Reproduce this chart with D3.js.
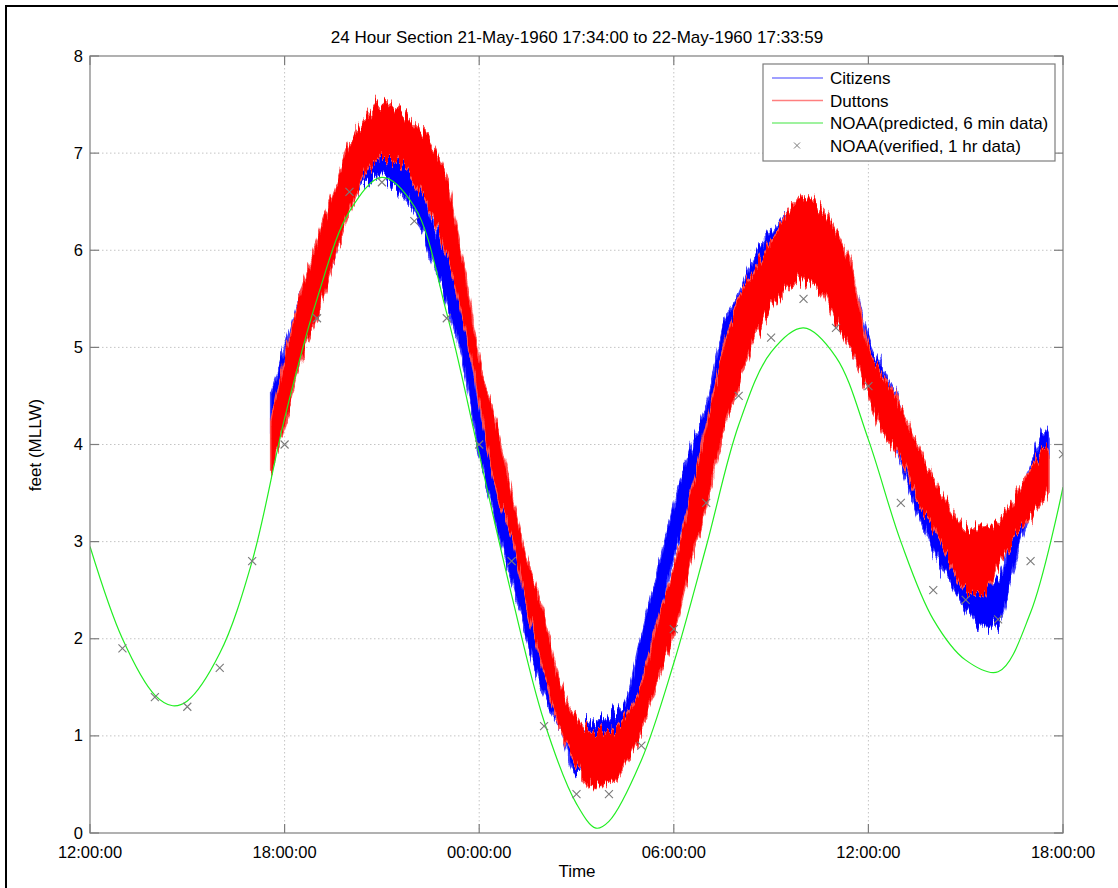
<!DOCTYPE html>
<html lang="en">
<head>
  <meta charset="UTF-8">
  <title>24 Hour Section</title>
  <script src="https://cdn.jsdelivr.net/npm/d3@7"></script>
  <style>
    body { margin: 0; background: #fff; font-family: "Liberation Sans", Arial, sans-serif; }
    svg text { font-family: "Liberation Sans", Arial, sans-serif; fill: #000; }
  </style>
</head>
<body>
  <svg id="chart" width="1118" height="888"></svg>

  <script>
    // hours after 21-May-1960 12:00:00
    const predHours = [0, 1, 2, 2.55, 3, 4, 5, 6, 7, 8, 9, 10, 11, 12, 13, 14, 15, 15.6, 16, 17,
                       18, 19, 20, 21, 22, 23, 24, 25, 26, 27, 28, 29, 30];
    const predFeet  = [2.95, 2.0, 1.42, 1.31, 1.36, 1.85, 2.8, 4.27, 5.5, 6.4, 6.75, 6.45, 5.35, 3.9, 2.45, 1.15, 0.3, 0.05, 0.12, 0.75,
                       1.75, 2.95, 4.2, 4.95, 5.2, 4.9, 4.05, 3.0, 2.2, 1.78, 1.66, 2.27, 3.56];

    const verHours = [1, 2, 3, 4, 5, 6, 7, 8, 9, 10, 11, 12, 13, 14, 15,
                      16, 17, 18, 19, 20, 21, 22, 23, 24, 25, 26, 27, 28, 29, 30];
    const verFeet  = [1.9, 1.4, 1.3, 1.7, 2.8, 4.0, 5.3, 6.6, 6.7, 6.3, 5.3, 4.0, 2.8, 1.1, 0.4,
                      0.4, 0.9, 2.1, 3.4, 4.5, 5.1, 5.5, 5.2, 4.6, 3.4, 2.5, 2.4, 2.2, 2.8, 3.9];

    // gauge records, read as low / high envelope of the noisy trace
    const gaugeHours = [5.57, 6, 6.5, 7, 7.5, 8, 8.5, 9, 9.5, 10, 10.5, 11, 11.5, 12, 12.5, 13, 13.5, 14,
                        14.5, 15, 15.5, 16, 16.5, 17, 17.5, 18, 18.5, 19, 19.5, 20, 20.5, 21, 21.5, 22,
                        22.5, 23, 23.5, 24, 24.5, 25, 25.5, 26, 26.5, 27, 27.5, 28, 28.5, 29, 29.5, 29.57];
    const citizensLow  = [4.05, 4.45, 4.95, 5.45, 5.85, 6.45, 6.7, 6.75, 6.6, 6.4, 5.95, 5.45, 4.85, 3.9, 3.2, 2.6, 1.95, 1.4,
                          1.05, 0.6, 0.65, 0.65, 0.85, 1.4, 2.15, 2.85, 3.4, 3.9, 4.4, 4.85, 5.25, 5.5, 5.75, 5.8,
                          5.65, 5.3, 4.95, 4.55, 4.2, 3.8, 3.3, 2.9, 2.6, 2.3, 2.1, 2.15, 2.75, 3.3, 3.8, 3.85];
    const citizensHigh = [4.55, 5.0, 5.55, 6.0, 6.4, 6.85, 7.0, 7.1, 6.95, 6.85, 6.35, 5.95, 5.35, 4.4, 3.7, 3.1, 2.4, 1.8,
                          1.4, 1.1, 1.15, 1.2, 1.35, 2.05, 2.7, 3.4, 3.95, 4.4, 5.2, 5.55, 5.95, 6.2, 6.4, 6.5,
                          6.4, 6.1, 5.75, 5.1, 4.75, 4.4, 3.8, 3.35, 3.1, 2.85, 2.65, 2.6, 3.25, 3.8, 4.15, 4.1];
    const duttonsLow   = [3.7, 4.2, 4.85, 5.3, 5.85, 6.4, 6.8, 6.95, 6.9, 6.7, 6.4, 5.95, 5.3, 4.45, 3.55, 3.05, 2.3, 1.65,
                          1.05, 0.7, 0.5, 0.5, 0.7, 1.05, 1.55, 2.05, 2.75, 3.35, 4.1, 4.6, 5.1, 5.4, 5.6, 5.7,
                          5.6, 5.25, 4.95, 4.5, 4.1, 3.85, 3.45, 3.15, 2.8, 2.5, 2.45, 2.75, 3.0, 3.25, 3.5, 3.55];
    const duttonsHigh  = [4.2, 4.9, 5.55, 6.1, 6.6, 7.1, 7.35, 7.5, 7.45, 7.3, 7.1, 6.75, 5.9, 4.9, 4.25, 3.5, 2.8, 2.25,
                          1.55, 1.2, 1.05, 1.05, 1.2, 1.55, 2.2, 2.75, 3.45, 4.2, 4.95, 5.5, 5.8, 6.1, 6.4, 6.55,
                          6.45, 6.2, 5.8, 5.0, 4.7, 4.4, 4.0, 3.65, 3.35, 3.15, 3.15, 3.2, 3.45, 3.75, 3.95, 3.9];

    const yTicks = [0, 1, 2, 3, 4, 5, 6, 7, 8];

    const svg = d3.select("#chart");
    const pl = 90, pr = 1063, pt = 56, pb = 833;
    const start = Date.UTC(1960, 4, 21, 12);
    const toDate = h => new Date(start + h * 3600e3);

    const x = d3.scaleUtc().domain([toDate(0), toDate(30)]).range([pl, pr]);
    const y = d3.scaleLinear().domain([0, 8]).range([pb, pt]);
    const xTicks = x.ticks(d3.utcHour.every(6));
    const fmt = d3.utcFormat("%H:%M:%S");

    // figure frame
    svg.append("rect").attr("x", 6).attr("y", 6).attr("width", 1130).attr("height", 900)
      .attr("fill", "none").attr("stroke", "#000").attr("stroke-width", 2);

    // noise filter for the gauge bands (visual texture only)
    const defs = svg.append("defs");
    const f = defs.append("filter").attr("id", "jag")
      .attr("x", "-5%").attr("y", "-10%").attr("width", "110%").attr("height", "120%");
    f.append("feTurbulence").attr("type", "fractalNoise").attr("baseFrequency", "0.35 0.025")
      .attr("numOctaves", 3).attr("seed", 7).attr("result", "n");
    f.append("feColorMatrix").attr("in", "n").attr("type", "matrix")
      .attr("values", "0 0 0 0 0.5  0 1 0 0 0  0 0 1 0 0  0 0 0 0 1").attr("result", "m");
    f.append("feDisplacementMap").attr("in", "SourceGraphic").attr("in2", "m")
      .attr("scale", 30).attr("xChannelSelector", "R").attr("yChannelSelector", "G");

    defs.append("clipPath").attr("id", "plot")
      .append("rect").attr("x", pl).attr("y", pt).attr("width", pr - pl).attr("height", pb - pt);

    // grid
    const grid = svg.append("g").attr("stroke", "#c4c4c4").attr("stroke-dasharray", "1.5,2.5");
    grid.selectAll(".gx").data(xTicks.slice(1, -1)).join("line")
      .attr("x1", d => x(d)).attr("x2", d => x(d)).attr("y1", pt).attr("y2", pb);
    grid.selectAll(".gy").data(yTicks.slice(1, -1)).join("line")
      .attr("x1", pl).attr("x2", pr).attr("y1", d => y(d)).attr("y2", d => y(d));

    const plot = svg.append("g").attr("clip-path", "url(#plot)");

    const band = (lo, hi) => d3.area()
      .x((d, i) => x(toDate(gaugeHours[i])))
      .y0((d, i) => y(lo[i]))
      .y1((d, i) => y(hi[i]))
      .curve(d3.curveMonotoneX)(gaugeHours);

    plot.append("path").attr("d", band(citizensLow, citizensHigh))
      .attr("fill", "#0000ff").attr("stroke", "#4040ff").attr("stroke-width", 1.5)
      .attr("filter", "url(#jag)");
    plot.append("path").attr("d", band(duttonsLow, duttonsHigh))
      .attr("fill", "#ff0000").attr("stroke", "#ff5050").attr("stroke-width", 1.5)
      .attr("filter", "url(#jag)");

    const predLine = d3.line()
      .x((d, i) => x(toDate(predHours[i])))
      .y(d => y(d))
      .curve(d3.curveCatmullRom.alpha(0.5));
    plot.append("path").attr("d", predLine(predFeet))
      .attr("fill", "none").attr("stroke", "#22ee22").attr("stroke-width", 1.2);

    const cross = 4;
    plot.selectAll(".ver").data(verFeet).join("path")
      .attr("d", (d, i) => {
        const cx = x(toDate(verHours[i])), cy = y(d);
        return `M${cx - cross},${cy - cross}L${cx + cross},${cy + cross}M${cx - cross},${cy + cross}L${cx + cross},${cy - cross}`;
      })
      .attr("stroke", "#7a7a7a").attr("stroke-width", 1.1).attr("fill", "none");

    // axes box and ticks
    const ax = svg.append("g").attr("stroke", "#7d7d7d").attr("stroke-width", 1.2);
    ax.append("rect").attr("x", pl).attr("y", pt).attr("width", pr - pl).attr("height", pb - pt)
      .attr("fill", "none");
    const tl = 9;
    xTicks.forEach(t => {
      ax.append("line").attr("x1", x(t)).attr("x2", x(t)).attr("y1", pb).attr("y2", pb - tl);
      ax.append("line").attr("x1", x(t)).attr("x2", x(t)).attr("y1", pt).attr("y2", pt + tl);
    });
    yTicks.forEach(v => {
      ax.append("line").attr("x1", pl).attr("x2", pl + tl).attr("y1", y(v)).attr("y2", y(v));
      ax.append("line").attr("x1", pr).attr("x2", pr - tl).attr("y1", y(v)).attr("y2", y(v));
    });

    svg.append("g").selectAll("text").data(xTicks).join("text")
      .attr("x", d => x(d)).attr("y", 858).attr("text-anchor", "middle")
      .attr("font-size", 16.5).text(fmt);
    svg.append("g").selectAll("text").data(yTicks).join("text")
      .attr("x", pl - 7).attr("y", d => y(d) + 5.5).attr("text-anchor", "end")
      .attr("font-size", 16.5).text(d => d);

    svg.append("text").attr("x", 577).attr("y", 43).attr("text-anchor", "middle")
      .attr("font-size", 17).text("24 Hour Section 21-May-1960 17:34:00 to 22-May-1960 17:33:59");
    svg.append("text").attr("x", 577).attr("y", 877).attr("text-anchor", "middle")
      .attr("font-size", 17).text("Time");
    svg.append("text").attr("transform", "translate(41,445) rotate(-90)").attr("text-anchor", "middle")
      .attr("font-size", 17).text("feet (MLLW)");

    // legend
    const legendNames = ["Citizens", "Duttons", "NOAA(predicted, 6 min data)", "NOAA(verified, 1 hr data)"];
    const legendColors = ["#0000ff", "#ff0000", "#00dd00", "#7a7a7a"];
    const lg = svg.append("g").attr("transform", "translate(763,64)");
    lg.append("rect").attr("width", 292).attr("height", 97)
      .attr("fill", "#fff").attr("stroke", "#7d7d7d").attr("stroke-width", 1.2);
    legendNames.forEach((name, i) => {
      const ly = 14 + i * 22.5;
      if (i < 3) {
        lg.append("line").attr("x1", 9).attr("x2", 60).attr("y1", ly).attr("y2", ly)
          .attr("stroke", legendColors[i]).attr("stroke-opacity", 0.5).attr("stroke-width", 1.5);
      } else {
        lg.append("path").attr("d", `M${34 - 3},${ly - 3}L${34 + 3},${ly + 3}M${34 - 3},${ly + 3}L${34 + 3},${ly - 3}`)
          .attr("stroke", legendColors[i]).attr("stroke-width", 1);
      }
      lg.append("text").attr("x", 67).attr("y", ly + 6).attr("font-size", 17).text(name);
    });
  </script>
</body>
</html>
